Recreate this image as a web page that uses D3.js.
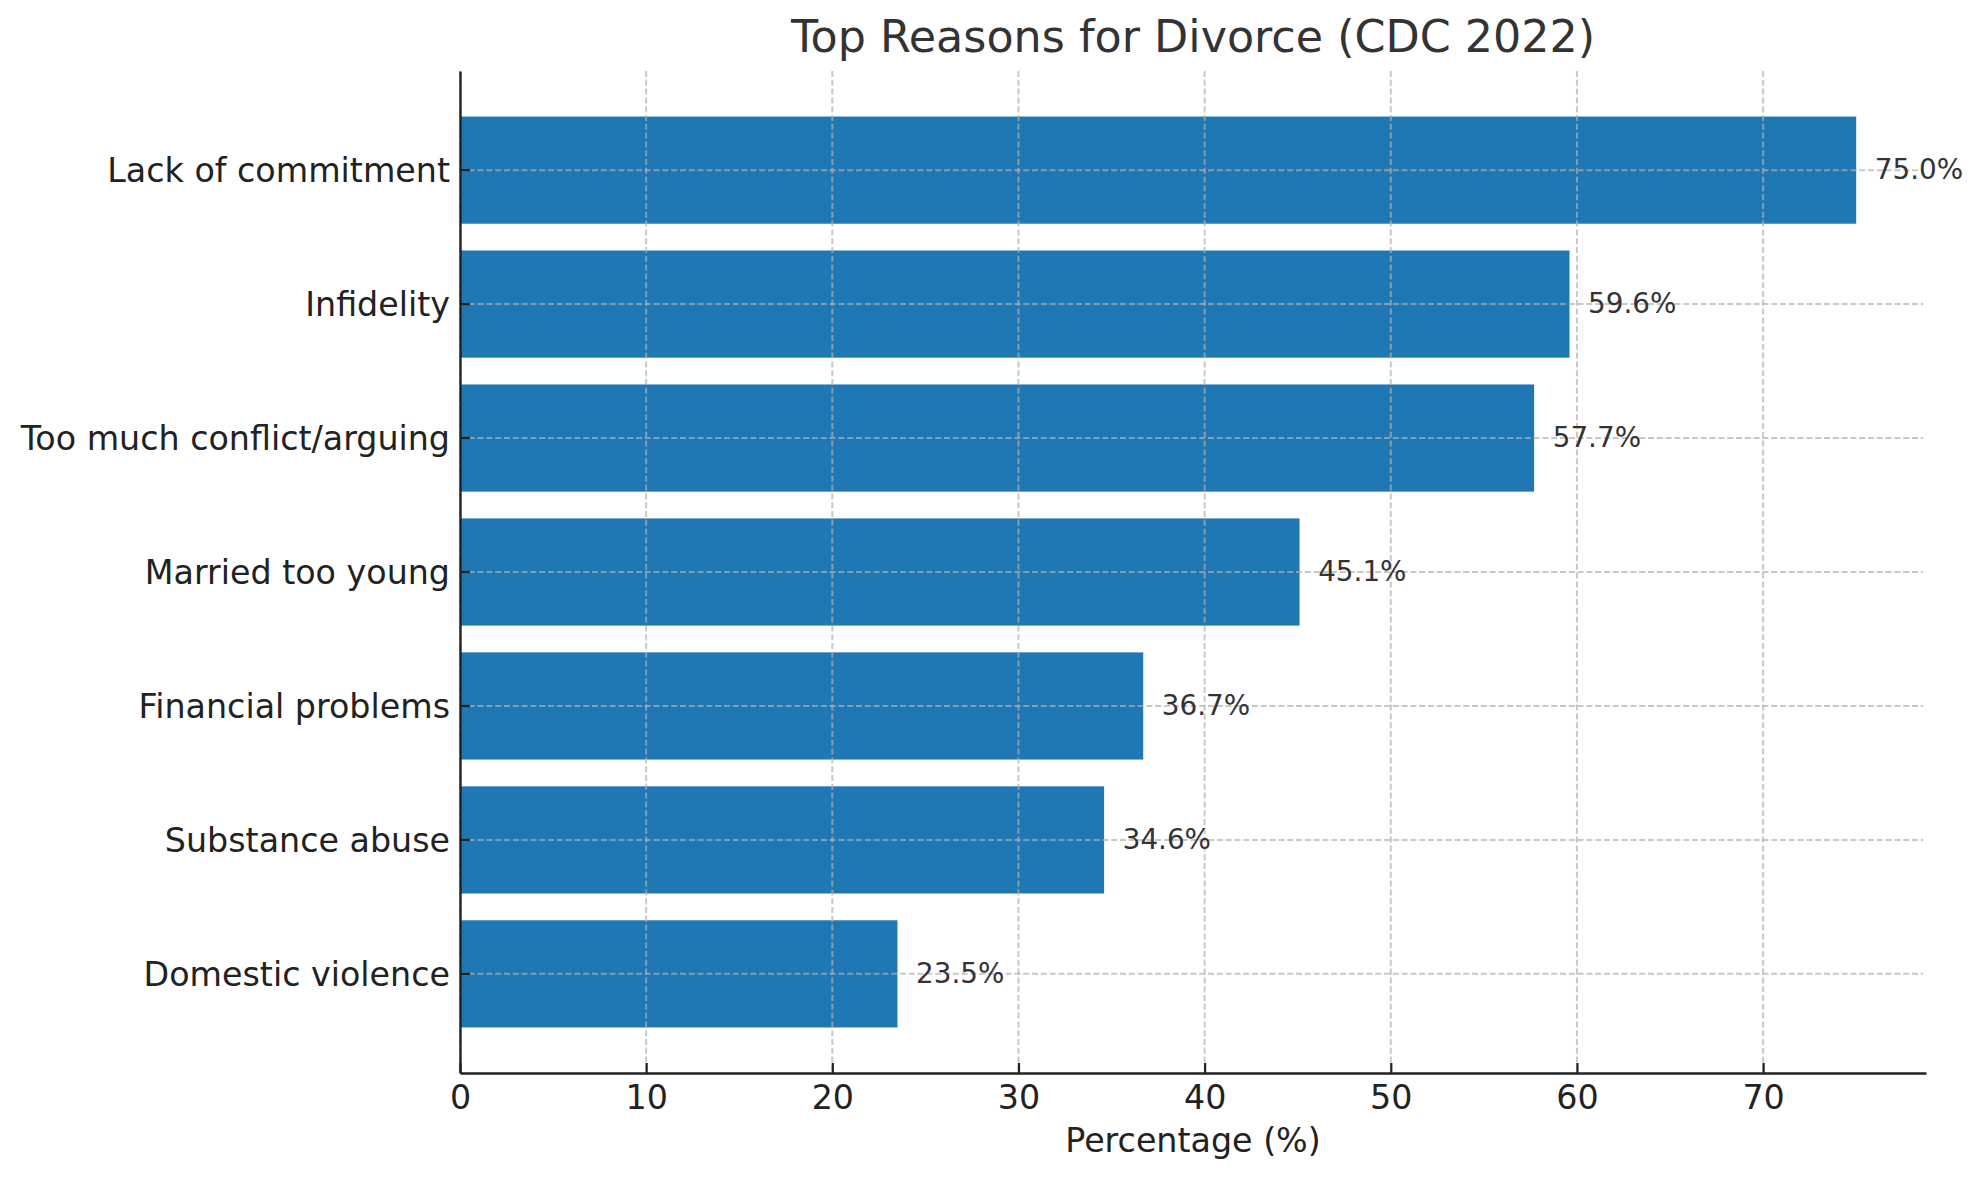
<!DOCTYPE html>
<html>
<head>
    <meta charset="utf-8">
    <script src="https://cdnjs.cloudflare.com/ajax/libs/d3/7.8.5/d3.min.js"></script>
    <title>Top Reasons for Divorce</title>
    <style>
        body { margin: 0; background: #fff; }
        svg { font-family: "DejaVu Sans", sans-serif; }
    </style>
</head>
<body>
    <svg id="chart" width="1982" height="1180"></svg>
    <script>
        // data, top to bottom as shown
        var reasons = ["Lack of commitment", "Infidelity", "Too much conflict/arguing",
            "Married too young", "Financial problems", "Substance abuse", "Domestic violence"];
        var percents = [75.0, 59.6, 57.7, 45.1, 36.7, 34.6, 23.5];
        var xTicks = [0, 10, 20, 30, 40, 50, 60, 70];

        // plot area (note: "top" is reserved on window, so use other names)
        var plotLeft = 460, plotRight = 1926, plotTop = 71, plotBottom = 1073;

        var svg = d3.select("#chart");

        var x = d3.scaleLinear()
            .domain([0, d3.max(percents) * 1.05])
            .range([plotLeft, plotRight]);

        var y = d3.scaleBand()
            .domain(reasons)
            .range([plotTop, plotBottom])
            .paddingInner(0.2)
            .paddingOuter(0.34);

        // bars
        svg.append("g")
            .selectAll("rect")
            .data(percents)
            .enter()
            .append("rect")
            .attr("x", x(0))
            .attr("y", (d, i) => y(reasons[i]))
            .attr("width", d => x(d) - x(0))
            .attr("height", y.bandwidth())
            .style("fill", "#1f77b4");

        // grid (on top of the bars, like matplotlib)
        var grid = svg.append("g")
            .style("stroke", "#b0b0b0")
            .style("stroke-opacity", 0.7)
            .style("stroke-width", 2)
            .style("stroke-dasharray", "6,2.8");

        grid.selectAll("line.vgrid")
            .data(xTicks)
            .enter()
            .append("line")
            .attr("class", "vgrid")
            .attr("x1", d => x(d)).attr("x2", d => x(d))
            .attr("y1", plotTop).attr("y2", plotBottom);

        grid.selectAll("line.hgrid")
            .data(reasons)
            .enter()
            .append("line")
            .attr("class", "hgrid")
            .attr("x1", plotLeft).attr("x2", plotRight - 3)
            .attr("y1", d => y(d) + y.bandwidth() / 2)
            .attr("y2", d => y(d) + y.bandwidth() / 2);

        // axes
        var xAxis = svg.append("g")
            .attr("transform", "translate(0," + plotBottom + ")")
            .call(d3.axisBottom(x).tickValues(xTicks).tickSize(-10).tickPadding(12).tickSizeOuter(0));

        var yAxis = svg.append("g")
            .attr("transform", "translate(" + plotLeft + ",0)")
            .call(d3.axisLeft(y).tickSize(-10).tickPadding(10).tickSizeOuter(0));

        [xAxis, yAxis].forEach(function(a) {
            a.select(".domain").style("stroke", "#222").style("stroke-width", 2.4);
            a.selectAll(".tick line").style("stroke", "#222").style("stroke-width", 2.2);
            a.selectAll(".tick text")
                .style("font-family", "DejaVu Sans")
                .style("font-size", "33.3px")
                .style("fill", "#222");
        });
        yAxis.selectAll(".tick text").attr("dy", "0.36em");

        // value labels
        svg.append("g")
            .selectAll("text")
            .data(percents)
            .enter()
            .append("text")
            .attr("x", d => x(d + 1))
            .attr("y", (d, i) => y(reasons[i]) + y.bandwidth() / 2)
            .attr("dy", "0.32em")
            .style("font-size", "27.8px")
            .style("fill", "#333")
            .text(d => d.toFixed(1) + "%");

        // title and axis label
        svg.append("text")
            .attr("x", (plotLeft + plotRight) / 2)
            .attr("y", 52)
            .attr("text-anchor", "middle")
            .style("font-size", "44.4px")
            .style("fill", "#333")
            .text("Top Reasons for Divorce (CDC 2022)");

        svg.append("text")
            .attr("x", (plotLeft + plotRight) / 2)
            .attr("y", 1152)
            .attr("text-anchor", "middle")
            .style("font-size", "33.3px")
            .style("fill", "#222")
            .text("Percentage (%)");
    </script>
</body>
</html>
